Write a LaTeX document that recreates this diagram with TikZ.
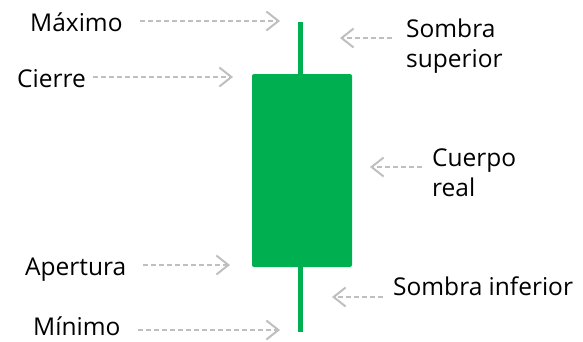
\documentclass[tikz,border=0pt]{standalone}
\usepackage{fontspec}
\setmainfont{Open Sans}
\usetikzlibrary{arrows.meta,positioning}
\definecolor{candlegreen}{HTML}{00B050}
\definecolor{pointergray}{HTML}{BFBFBF}
\tikzset{>=stealth,
	tag/.style={% labels round the candle
		inner sep=0pt,
		anchor=base west,
		align=left,
		font=\fontsize{24.5}{30}\selectfont
	},
	pointer/.style={
		draw=pointergray,
		line width=2pt,
		dash pattern=on 5pt off 3pt,
		-{Straight Barb[length=12pt,width=19pt,line width=2pt]}
	},
	candlebody/.style={
		fill=candlegreen, draw=none,
		rounded corners=2pt,
		minimum width=100pt,
		minimum height=193pt
	},
	wick/.style={draw=candlegreen, line width=5pt}
}
\begin{document}
\begin{tikzpicture}[x=1pt,y=-1pt]
	\useasboundingbox (0,0) rectangle (583,341);
	% candle
	\node[candlebody] (body) at (302,170.5) {};
	\coordinate (high) at (300.5,22);
	\coordinate (low) at (300.5,332);
	\draw[wick] (high) -- (high |- body.north);
	\draw[wick] (low |- body.south) -- (low);

	% labels (multi-line ones sit on their last line)
	\node[tag] (maximo) at (30,31) {Máximo};
	\node[tag] (cierre) at (17,87) {Cierre};
	\node[tag] (apertura) at (25,275) {Apertura};
	\node[tag] (minimo) at (33,335.5) {Mínimo};
	\node[tag] (sombrasup) at (406,67) {Sombra\\superior};
	\node[tag] (cuerpo) at (432,196) {Cuerpo\\real};
	\node[tag] (sombrainf) at (393,295) {Sombra inferior};

	% pointers
	\coordinate (maxtail) at (140,21);   \coordinate (maxtip) at (280,21);
	\coordinate (cietail) at (93,77);    \coordinate (cietip) at (233,77);
	\coordinate (apetail) at (143,265);  \coordinate (apetip) at (230,265);
	\coordinate (mintail) at (138,330);  \coordinate (mintip) at (280,330);
	\coordinate (suptail) at (392,38);   \coordinate (suptip) at (340,38);
	\coordinate (cuetail) at (422,167);  \coordinate (cuetip) at (370,167);
	\coordinate (inftail) at (383,297);  \coordinate (inftip) at (332,297);
	\foreach \a in {max,cie,ape,min,sup,cue,inf}
		\draw[pointer] (\a tail) -- (\a tip);
\end{tikzpicture}
\end{document}
